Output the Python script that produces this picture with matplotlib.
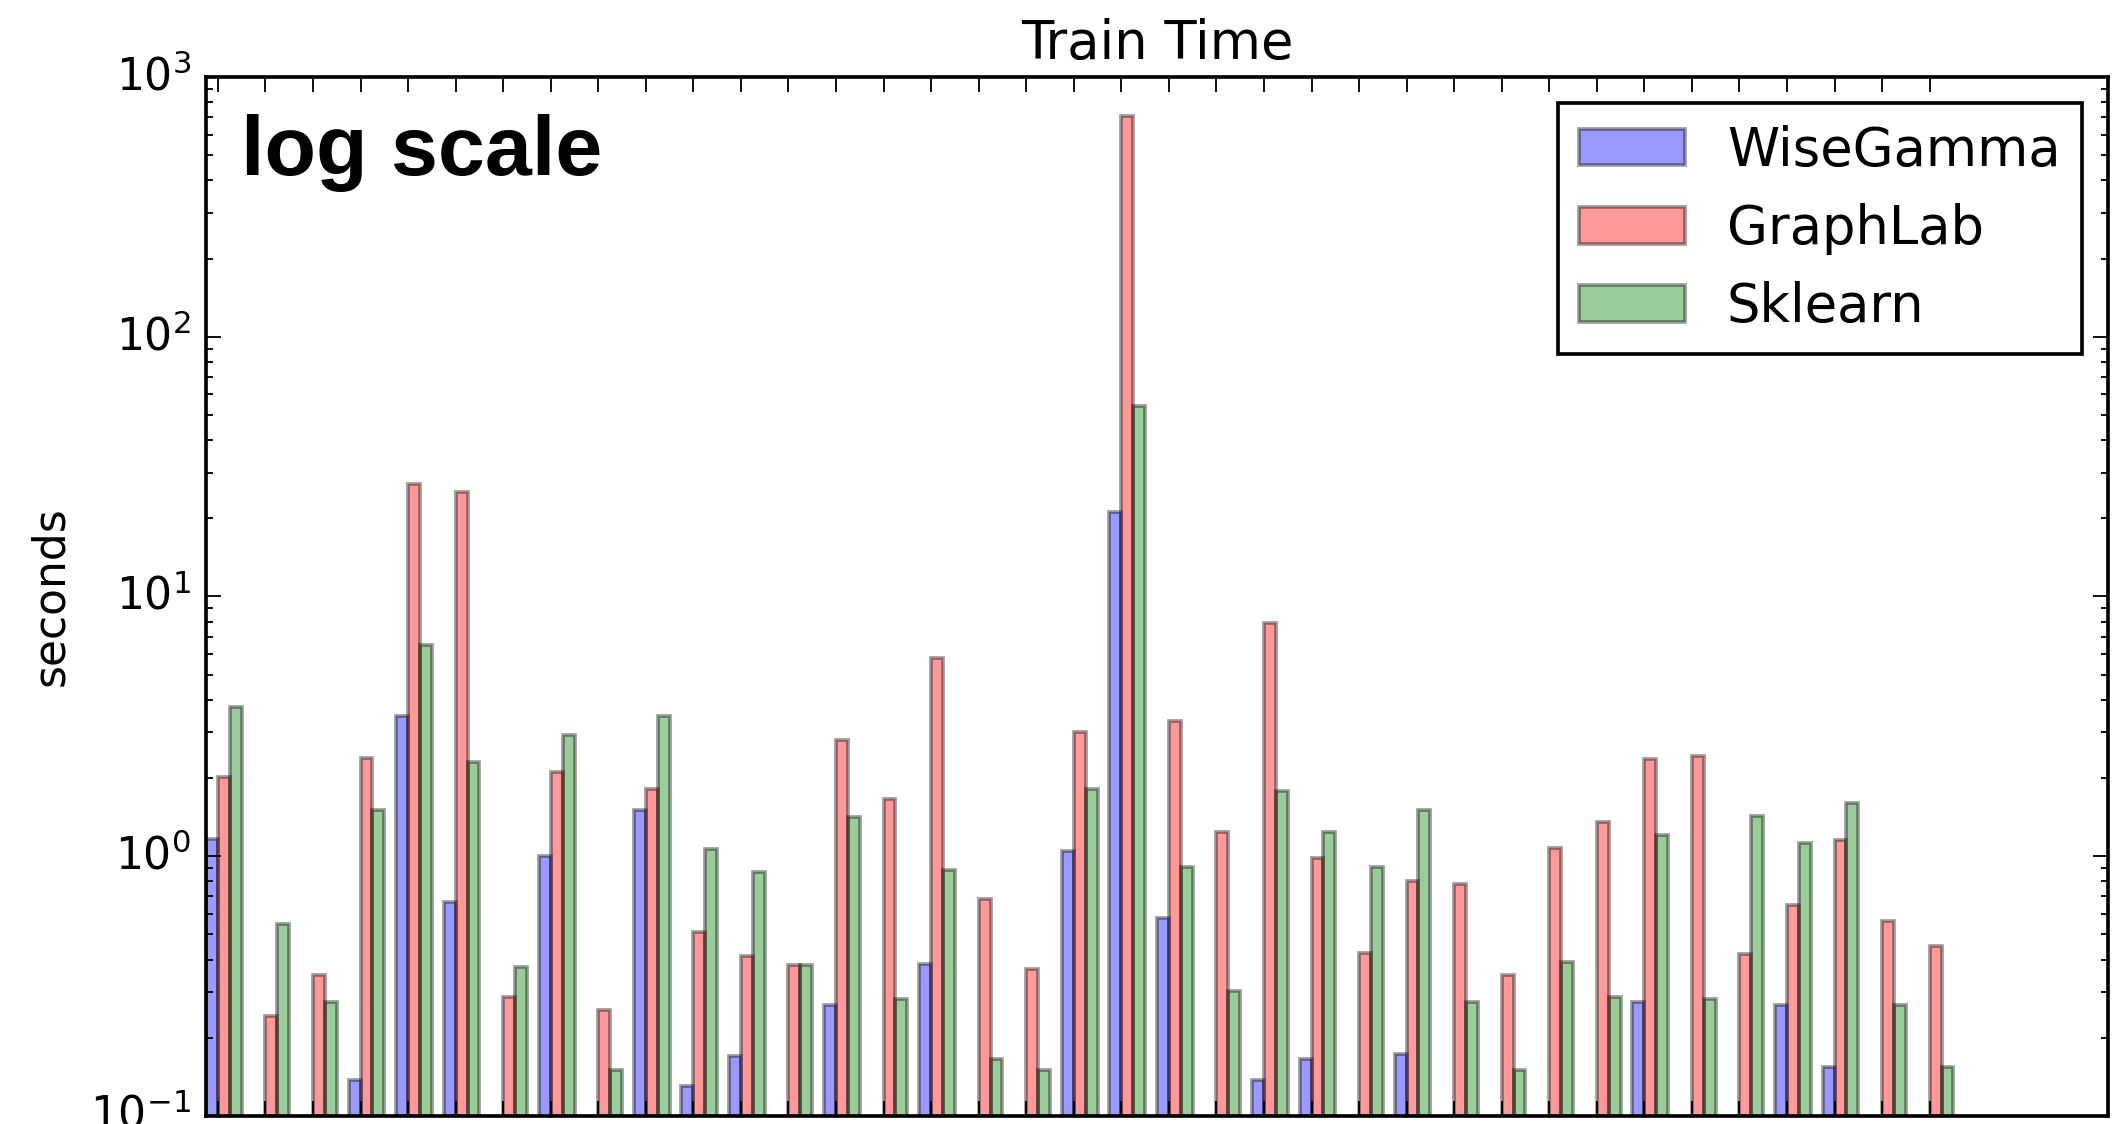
import numpy as np
import matplotlib
matplotlib.use('Agg')
import matplotlib.pyplot as plt

plt.style.use('classic')
plt.rcParams['axes.unicode_minus'] = False

nan = np.nan
# train time per dataset (seconds); nan = below the 0.1 s axis floor
wisegamma = [1.16, nan, nan, 0.137, 3.48, 0.668, nan, 1.0, nan, 1.50,
             0.13, 0.17, nan, 0.268, nan, 0.386, nan, nan, 1.05, 21.2,
             0.579, nan, 0.137, 0.166, nan, 0.174, nan, nan, nan, nan,
             0.275, nan, nan, 0.268, 0.155, nan, nan]
graphlab = [2.01, 0.243, 0.348, 2.38, 27.0, 25.2, 0.288, 2.11, 0.255, 1.82,
            0.512, 0.412, 0.383, 2.81, 1.66, 5.79, 0.683, 0.367, 3.01, 708,
            3.31, 1.24, 7.88, 0.981, 0.423, 0.805, 0.785, 0.348, 1.08, 1.36,
            2.37, 2.43, 0.421, 0.651, 1.15, 0.562, 0.453]
sklearn = [3.76, 0.547, 0.275, 1.51, 6.49, 2.31, 0.373, 2.93, 0.151, 3.47,
           1.07, 0.867, 0.383, 1.41, 0.283, 0.889, 0.166, 0.151, 1.82, 54.0,
           0.909, 0.302, 1.78, 1.24, 0.906, 1.50, 0.275, 0.151, 0.392, 0.288,
           1.21, 0.282, 1.43, 1.12, 1.61, 0.268, 0.155]
labels = ['WiseGamma', 'GraphLab', 'Sklearn']

DPI = 264
fig = plt.figure(figsize=(2126 / DPI, 1124 / DPI), dpi=DPI, facecolor='white')
ax = fig.add_axes([0.0969, 0.00712, 0.8946, 0.9244])

ind = np.arange(len(graphlab))
width = 0.25

ax.bar(ind, wisegamma, width, color='b', alpha=0.4, align='edge', label=labels[0])
ax.bar(ind + width, graphlab, width, color='r', alpha=0.4, align='edge', label=labels[1])
ax.bar(ind + 2 * width, sklearn, width, color='g', alpha=0.4, align='edge', label=labels[2])

ax.set_yscale('log')
ax.set_ylim(0.1, 1000)
ax.set_xlim(0, 40)
ax.set_xticks(ind + width)
ax.set_xticklabels([])
ax.tick_params(axis='y', labelsize=12)

ax.set_title('Train Time')
ax.set_ylabel('seconds')
ax.legend(loc='upper right')

ax.text(0.0184, 0.906, 'log scale', transform=ax.transAxes, fontsize=23,
        fontweight='bold', family=['Liberation Sans', 'DejaVu Sans'],
        va='baseline', ha='left')

fig.savefig('out.png', dpi=DPI, facecolor='white')
